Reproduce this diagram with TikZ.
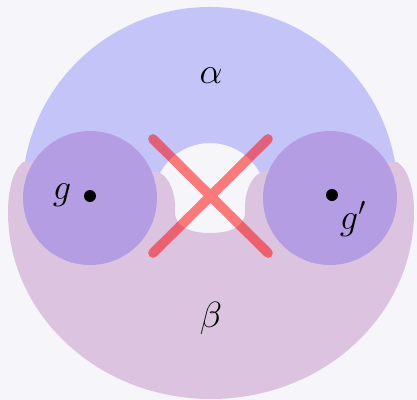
\documentclass[tikz,border=0pt]{standalone}
\usepackage{amsmath,amssymb}
\usetikzlibrary{positioning}
\definecolor{bgcol}{RGB}{245,245,250}
\definecolor{alphacol}{RGB}{196,196,248}
\definecolor{betacol}{RGB}{220,196,224}
\definecolor{bothcol}{RGB}{180,157,226}
\tikzset{
  dot/.style={circle,fill=black,inner sep=0pt,minimum size=0.24cm},
  lab/.style={font=\huge},
  cross/.style={red,opacity=0.5,line width=5.5pt,line cap=round}
}
\begin{document}
\begin{tikzpicture}[x=0.02cm,y=-0.02cm]
  \fill[bgcol] (0,0) rectangle (417,400);
  \useasboundingbox (0,0) rectangle (417,400);
  % upper region alpha: dome with the hole cut out at the bottom
  \fill[alphacol] (24.7,163) arc[start angle=189.8,end angle=350.2,radius=188]
    -- (300,165) -- (260,173)
    arc[start angle=331.9,end angle=208.1,radius=56.7]
    -- (153,172) -- (120,165) -- cycle;
  % lower region beta
  \fill[betacol] (23,162) .. controls (13,170) and (8,190) .. (8,212)
    arc[start angle=180,end angle=0,x radius=203,y radius=187]
    .. controls (414,190) and (409,170) .. (397,162)
    -- (300,165) -- (260,173)
    .. controls (250,178) and (244,195) .. (245,210)
    .. controls (246,228) and (228,233) .. (210,233)
    .. controls (192,233) and (174,228) .. (175,210)
    .. controls (176,195) and (170,178) .. (160,173)
    -- (153,172) -- (120,165) -- cycle;
  % the two discs lie in both regions
  \foreach \cx in {90,330}
    \fill[bothcol] (\cx,198) circle[radius=67];
  \node[dot] (gdot) at (90,196) {};
  \node[dot] (gpdot) at (332,195) {};
  \node[lab] (glab) at (62,195) {$g$};
  \node[lab] (gplab) at (353,219) {$g'$};
  \node[lab] (alab) at (211,76) {$\alpha$};
  \node[lab] (blab) at (211,318) {$\beta$};
  % the forbidden cut
  \coordinate (xa) at (153,139);
  \coordinate (xb) at (268,253);
  \coordinate (xc) at (268,139);
  \coordinate (xd) at (153,253);
  \draw[cross] (xa) -- (xb) (xc) -- (xd);
\end{tikzpicture}
\end{document}
